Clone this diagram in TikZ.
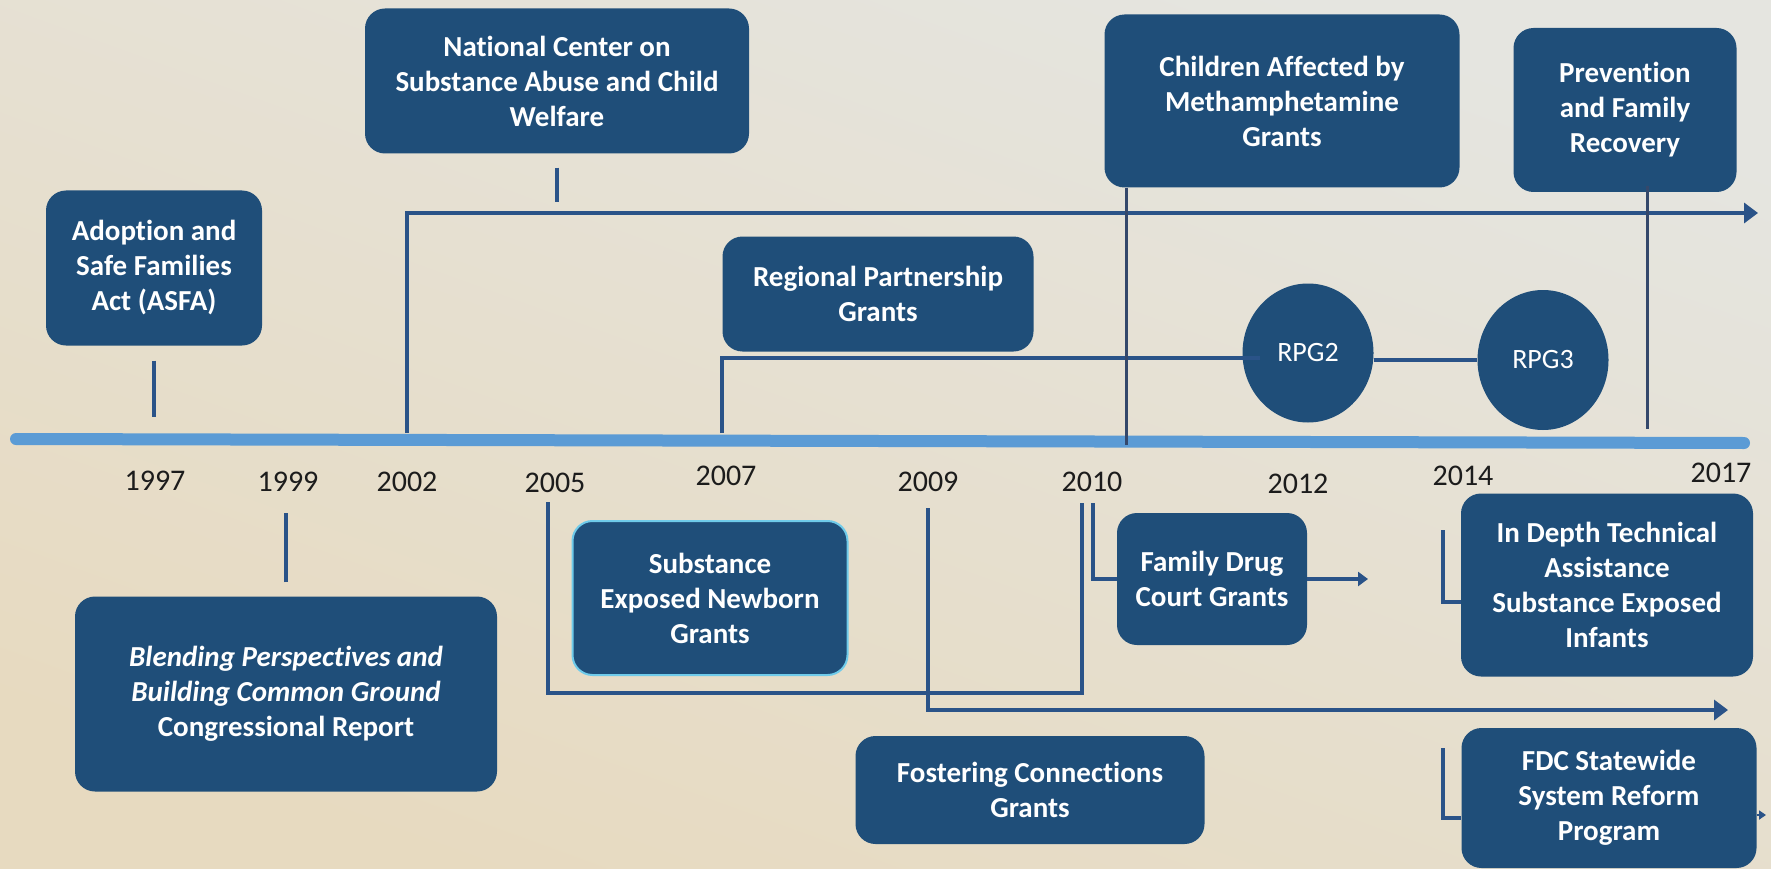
\documentclass[tikz,border=0pt]{standalone}
\usepackage{fontspec}
\setmainfont[Ligatures=NoCommon]{Carlito}
\usetikzlibrary{arrows.meta,shapes.geometric}
\definecolor{boxblue}{HTML}{1F4E79}
\definecolor{linkblue}{HTML}{2A5388}
\definecolor{darklink}{HTML}{34486B}
\definecolor{barblue}{HTML}{5B9BD5}
\definecolor{sencyan}{HTML}{6FCBEA}
\definecolor{bgtop}{HTML}{E5E5E0}
\definecolor{bgbot}{HTML}{E7DAC0}
\definecolor{yeartext}{HTML}{1C1C1C}
\begin{document}
\begin{tikzpicture}[x=1pt,y=-1pt,
  box/.style={fill=boxblue, rounded corners=20pt, text=white, font=\fontsize{29}{35}\selectfont\bfseries, align=center, inner sep=0pt},
  rpgc/.style={ellipse, fill=boxblue, text=white, font=\fontsize{28}{34}\selectfont, inner sep=0pt},
  link/.style={draw=linkblue, line width=3.5pt},
  thinlink/.style={draw=darklink, line width=3pt},
  bigarr/.style={-{Triangle[length=14pt,width=20pt]}},
  smallarr/.style={-{Triangle[length=10pt,width=14pt]}},
  tinyarr/.style={-{Triangle[length=7pt,width=9pt]}},
  yr/.style={font=\fontsize{30}{36}\selectfont, text=yeartext, inner sep=0pt}]
\useasboundingbox (0,0) rectangle (1771,869);
\shade[top color=bgtop, bottom color=bgbot, shading angle=-20] (0,0) rectangle (1771,869);

% timeline bar
\draw[barblue, line width=12pt, line cap=round] (16,439) -- (1744,443);

% years
\node[yr] (y1997) at (155,481) {1997};
\node[yr] (y1999) at (288,482) {1999};
\node[yr] (y2002) at (407,482) {2002};
\node[yr] (y2005) at (555,483) {2005};
\node[yr] (y2007) at (726,476) {2007};
\node[yr] (y2009) at (928,482) {2009};
\node[yr] (y2010) at (1092,482) {2010};
\node[yr] (y2012) at (1298,484) {2012};
\node[yr] (y2014) at (1463,476) {2014};
\node[yr] (y2017) at (1721,473) {2017};

% boxes
\node[box, minimum width=216pt, minimum height=155pt] (asfa) at (154,268) {Adoption and\\Safe Families\\Act (ASFA)};
\node[box, minimum width=384pt, minimum height=145pt] (ncsacw) at (557,81) {National Center on\\Substance Abuse and Child\\Welfare};
\node[box, minimum width=355pt, minimum height=173pt] (cam) at (1282,101) {Children Affected by\\Methamphetamine\\Grants};
\node[box, minimum width=223pt, minimum height=164pt] (pfr) at (1625,110) {Prevention\\and Family\\Recovery};
\node[box, minimum width=311pt, minimum height=115pt] (rpg) at (878,294) {Regional Partnership\\Grants};
\node[rpgc, minimum width=131pt, minimum height=139pt] (rpg2) at (1308,353) {RPG2};
\node[rpgc, minimum width=131pt, minimum height=140pt] (rpg3) at (1543,360) {RPG3};
\node[box, draw=sencyan, line width=2pt, minimum width=275pt, minimum height=154pt] (sen) at (710,598) {Substance\\Exposed Newborn\\Grants};
\node[box, minimum width=422pt, minimum height=195pt] (bpr) at (286,694) {{\itshape Blending Perspectives and}\\{\itshape Building Common Ground}\\Congressional Report};
\node[box, minimum width=190pt, minimum height=132pt] (fdg) at (1212,579) {Family Drug\\Court Grants};
\node[box, minimum width=292pt, minimum height=183pt] (itas) at (1607,585) {In Depth Technical\\Assistance\\Substance Exposed\\Infants};
\node[box, minimum width=349pt, minimum height=108pt] (fcg) at (1030,790) {Fostering Connections\\Grants};
\node[box, minimum width=295pt, minimum height=140pt] (fdcs) at (1609,798) {FDC Statewide\\System Reform\\Program};

% ticks
\draw[link] ([yshift=-15pt]asfa.south) -- ++(0,56);
\draw[link] ([yshift=-14pt]ncsacw.south) -- ++(0,34);
\draw[link] ([yshift=14pt]bpr.north) -- ++(0,-69);

% 2002 line
\coordinate (a02) at (407,433);
\coordinate (e02) at (1758,213);
\draw[link, bigarr] (a02) |- (e02);

% 2007 line to RPG2, RPG3
\coordinate (a07) at (722,433);
\coordinate (r07) at (1260,358);
\draw[link] (a07) |- (r07);
\coordinate (r23) at (1420,360);
\draw[link] (r23 -| rpg2.east) -- (r23 -| rpg3.west);

% Children affected / Prevention verticals
\coordinate (c10) at (1126,445);
\draw[thinlink] (cam.south -| c10) -- (c10);
\coordinate (c16) at (1647,429);
\draw[thinlink] ([yshift=6pt]pfr.south -| c16) -- (c16);

% 2005 U line
\coordinate (u1) at (548,502);
\coordinate (ub) at (1082,693);
\coordinate (u2) at (1082,503);
\draw[link] (u1) |- (ub) -- (u2);

% 2010 line to Family Drug Court
\coordinate (f10) at (1093,503);
\draw[link] (f10) |- (fdg.west);
\coordinate (fe) at (1368,579);
\draw[link, smallarr] (fdg.east) -- (fe);

% 2009 line
\coordinate (n09) at (928,508);
\coordinate (e09) at (1728,710);
\draw[link, bigarr] (n09) |- (e09);

% 2014 brackets
\coordinate (b14) at (1443,530);
\coordinate (b14c) at (1443,602);
\draw[link] (b14) -- (b14c) -- (b14c -| itas.west);
\coordinate (b15) at (1443,748);
\coordinate (b15c) at (1443,818);
\draw[link] (b15) -- (b15c) -- (b15c -| fdcs.west);

% small arrow right of FDC
\coordinate (fr) at (1766,815);
\draw[link, line width=2pt, tinyarr] (fr -| fdcs.east) -- (fr);
\end{tikzpicture}
\end{document}
